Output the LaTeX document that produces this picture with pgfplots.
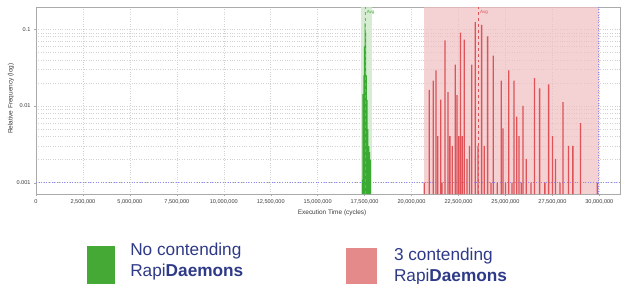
\documentclass[border=0pt]{standalone}
\usepackage{fontspec}
\setmainfont{Liberation Sans}
\usepackage{pgfplots}
\pgfplotsset{compat=1.18}
\definecolor{gbar}{RGB}{58,170,50}
\definecolor{gband}{RGB}{205,232,200}
\definecolor{rbar}{RGB}{222,82,88}
\definecolor{rband}{RGB}{240,190,192}
\definecolor{legblue}{RGB}{46,58,135}
\definecolor{leggreen}{RGB}{68,170,53}
\definecolor{legpink}{RGB}{228,138,138}
\definecolor{gridc}{RGB}{210,210,210}
\definecolor{refblue}{RGB}{140,140,240}
\definecolor{framec}{RGB}{170,170,170}
\definecolor{tickc}{RGB}{60,60,60}

\begin{document}
\begin{tikzpicture}
\useasboundingbox (-36bp,-90bp) rectangle (586bp,194bp);
\begin{axis}[
  scale only axis, width=584bp, height=187bp,
  xmin=0, xmax=31.1e6,
  ymode=log, ymin=7.13e-4, ymax=0.195,
  log origin=infty,
  scaled x ticks=false,
  xtick={0,2500000,5000000,7500000,10000000,12500000,15000000,17500000,20000000,22500000,25000000,27500000,30000000},
  xticklabels={0,{2,500,000},{5,000,000},{7,500,000},{10,000,000},{12,500,000},{15,000,000},{17,500,000},{20,000,000},{22,500,000},{25,000,000},{27,500,000},{30,000,000}},
  ytick={0.001,0.01,0.1},
  yticklabels={0.001,0.01,0.1},
  xmajorgrids, ymajorgrids, yminorgrids,
  major grid style={gridc, dotted, line width=0.5pt},
  minor grid style={gridc, dotted, line width=0.5pt},
  axis line style={draw=framec, line width=0.6pt},
  tick style={framec, line width=0.4pt},
  major tick length=2bp, minor tick length=0pt, tick align=outside, tick pos=left,
  ticklabel style={font=\fontsize{5.6}{6}\selectfont, text=tickc},
  xlabel={Execution Time (cycles)}, ylabel={Relative Frequency (log)},
  label style={font=\fontsize{6.5}{7}\selectfont, text=tickc},
  xlabel style={at={(axis description cs:0.507,-0.102)}, anchor=center},
  ylabel style={at={(axis description cs:-0.043,0.51)}, anchor=center},
  legend columns=2,
  legend style={at={(axis description cs:0.0868,-0.2476)}, anchor=north west,
    draw=none, fill=none, inner sep=0pt,
    font=\fontsize{17.3}{21}\selectfont,
    nodes={inner sep=0pt, text depth=, text=legblue},
    cells={anchor=base west},
    /tikz/every even column/.append style={column sep=103bp},
    /tikz/every odd column/.append style={column sep=0pt}},
]
% shaded ranges
\addplot[ybar interval, fill=gband, draw=none, fill opacity=0.8, forget plot] coordinates {(17.30e6,0.195) (17.89e6,0.195)};
\addplot[ybar interval, fill=rband, draw=none, fill opacity=0.7, forget plot] coordinates {(20.68e6,0.195) (29.96e6,0.195)};
% reference lines
\addplot[refblue, dotted, line width=0.6pt, forget plot] coordinates {(0,0.001) (31.1e6,0.001)};
\addplot[refblue, dotted, line width=0.6pt, forget plot] coordinates {(29.96e6,7.13e-4) (29.96e6,0.195)};
% green histogram (no contending)
\addplot[ybar interval, fill=gbar, draw=none, forget plot] table {
x y
17.348e6 0.0011
17.386e6 0.0143
17.428e6 0.025
17.465e6 0.06
17.503e6 0.12
17.545e6 0.09
17.582e6 0.025
17.625e6 0.012
17.662e6 0.005
17.705e6 0.003
17.748e6 0.0025
17.795e6 0.002
17.838e6 0.002
};
% red histogram (3 contending)
\addplot[ybar, bar width=1.3bp, bar shift=0pt, fill=rbar, draw=none, forget plot] table {
x y
20.68e6 0.001
20.94e6 0.0162
21.16e6 0.0214
21.30e6 0.0292
21.39e6 0.00406
21.55e6 0.0121
21.62e6 0.001
21.78e6 0.0719
21.94e6 0.0152
22.04e6 0.00406
22.17e6 0.00303
22.33e6 0.0345
22.42e6 0.0139
22.51e6 0.00406
22.61e6 0.0903
22.70e6 0.00406
22.81e6 0.0732
22.95e6 0.00204
23.09e6 0.00303
23.20e6 0.0345
23.39e6 0.124
23.54e6 0.00303
23.73e6 0.114
23.87e6 0.00303
24.05e6 0.081
24.23e6 0.001
24.35e6 0.0453
24.56e6 0.001
24.78e6 0.0214
24.87e6 0.00512
25.00e6 0.001
25.17e6 0.0292
25.35e6 0.001
25.45e6 0.0214
25.60e6 0.00725
25.72e6 0.00406
25.84e6 0.001
25.93e6 0.01
26.11e6 0.00204
26.36e6 0.001
26.55e6 0.0230
26.82e6 0.0170
27.10e6 0.001
27.30e6 0.0192
27.51e6 0.00406
27.67e6 0.00204
27.90e6 0.001
28.06e6 0.0112
28.36e6 0.00303
28.59e6 0.00303
29.00e6 0.0060
29.89e6 0.001
};
% averages
\addplot[gbar!80, dashed, line width=0.5pt, forget plot] coordinates {(17.55e6,7.13e-4) (17.55e6,0.195)};
\addplot[rbar, dashed, line width=0.6pt, forget plot] coordinates {(23.58e6,7.13e-4) (23.58e6,0.195)};
\node[font=\fontsize{4.5}{5}\selectfont, text=gbar, anchor=west, inner sep=0.5pt] at (axis cs:17.58e6,0.164) {Avg};
\node[font=\fontsize{4.5}{5}\selectfont, text=rbar, anchor=west, inner sep=0.5pt] at (axis cs:23.62e6,0.164) {Avg};
% legend
\addlegendimage{legend image code/.code={\fill[leggreen] (0,0) rectangle (27bp,30bp); \path (43bp,0);}}
\addlegendentry{\begin{tabular}[b]{@{}l@{}}No contending\\Rapi\textbf{Daemons}\end{tabular}}
\addlegendimage{legend image code/.code={\fill[legpink] (0,-5bp) rectangle (30bp,28bp); \path (47.3bp,0);}}
\addlegendentry{\raisebox{-5.5bp}{\begin{tabular}[b]{@{}l@{}}3 contending\\Rapi\textbf{Daemons}\end{tabular}}}
\end{axis}
\end{tikzpicture}
\end{document}
